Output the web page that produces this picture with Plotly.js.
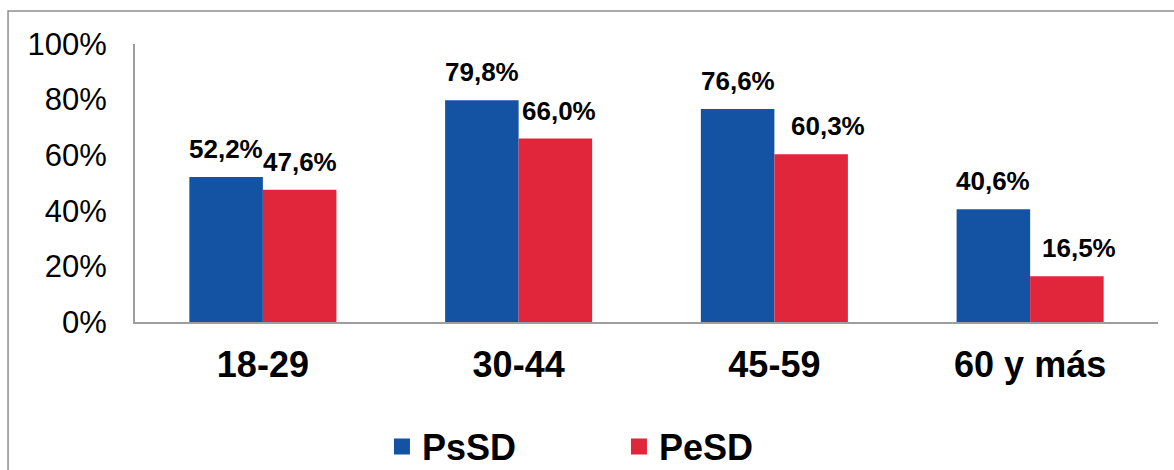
<!DOCTYPE html>
<html>
<head>
<meta charset="utf-8">
<script src="https://cdn.plot.ly/plotly-3.0.1.min.js"></script>
<style>html,body{margin:0;padding:0;background:#fff;}#chart{width:1174px;height:470px;}</style>
</head>
<body>
<div id="chart"></div>
<script>
const categories = ["18-29", "30-44", "45-59", "60 y más"];
const seriesNames = ["PsSD", "PeSD"];
const psSD = [52.2, 79.8, 76.6, 40.6];
const peSD = [47.6, 66.0, 60.3, 16.5];

const colors = ["#1453A3", "#E1253A"];
const FONT = '"Liberation Sans", Arial, sans-serif';
const bargap = 0.425;
const halfBar = (1 - bargap) / 4; // center offset of each bar within group
const labelXShift = [[0, 0, 0, 0], [0, 4, 17, 12]];

function fmt(v) { return v.toFixed(1).replace('.', ',') + '%'; }

const seriesVals = [psSD, peSD];
const traces = seriesVals.map((vals, s) => ({
  type: 'bar',
  name: seriesNames[s],
  x: categories,
  y: vals,
  marker: { color: colors[s] },
  showlegend: false,
  hoverinfo: 'skip'
}));
// legend entries with square markers
seriesNames.forEach((n, s) => {
  traces.push({
    type: 'scatter', mode: 'markers', name: n,
    x: [null], y: [null],
    marker: { symbol: 'square', size: 16, color: colors[s] },
    showlegend: true, hoverinfo: 'skip'
  });
});

const annotations = [];
seriesVals.forEach((vals, s) => {
  vals.forEach((v, i) => {
    annotations.push({
      x: i + (s === 0 ? -halfBar : halfBar),
      y: v,
      xref: 'x', yref: 'y',
      text: fmt(v),
      showarrow: false,
      yanchor: 'bottom',
      xanchor: 'center',
      yshift: 11,
      xshift: labelXShift[s][i],
      font: { family: FONT, size: 26, color: '#000', weight: 'bold' }
    });
  });
});

const layout = {
  width: 1174, height: 470,
  margin: { l: 135, r: 16, t: 44, b: 148, autoexpand: false },
  paper_bgcolor: '#fff', plot_bgcolor: '#fff',
  barmode: 'group', bargap: bargap, bargroupgap: 0,
  separators: ',.',
  xaxis: {
    type: 'category',
    showgrid: false, zeroline: false,
    showline: true, linecolor: '#9e9e9e', linewidth: 2,
    ticks: '', ticklabelstandoff: 10,
    tickfont: { family: FONT, size: 36, color: '#000', weight: 'bold' },
    range: [-0.5, 3.5]
  },
  yaxis: {
    range: [0, 100], dtick: 20, tick0: 0,
    ticksuffix: '%',
    showgrid: false, zeroline: false,
    showline: true, linecolor: '#9e9e9e', linewidth: 2,
    ticks: '', ticklabelstandoff: 20,
    tickfont: { family: FONT, size: 31, color: '#000' }
  },
  legend: {
    orientation: 'h', x: 0.2414, xanchor: 'left', y: -0.340, yanchor: 'top',
    entrywidth: 192, entrywidthmode: 'pixels',
    font: { family: FONT, size: 36, color: '#000', weight: 'bold' },
    bgcolor: 'rgba(0,0,0,0)', borderwidth: 0
  },
  annotations: annotations,
  shapes: [{
    type: 'rect', xref: 'paper', yref: 'paper',
    x0: -0.1241, x1: 1.2, y0: -0.7, y1: 1.1187,
    line: { color: '#8f8f8f', width: 1.5 }, fillcolor: 'rgba(0,0,0,0)', layer: 'below'
  }],
  showlegend: true
};

Plotly.newPlot('chart', traces, layout, { displayModeBar: false, staticPlot: true });
</script>
</body>
</html>
